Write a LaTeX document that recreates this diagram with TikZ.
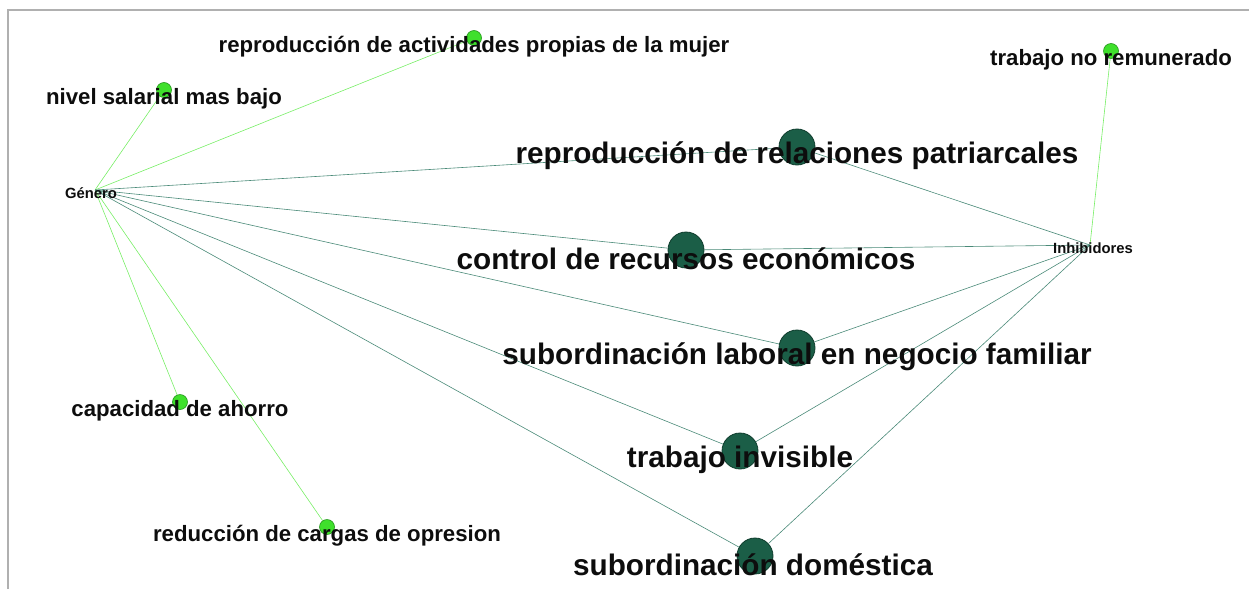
\documentclass[tikz,border=0pt]{standalone}
\usepackage{fontspec}
\setmainfont{Liberation Sans}
\usetikzlibrary{backgrounds}
\definecolor{bigfill}{HTML}{1B5E47}
\definecolor{bigline}{HTML}{0E3C2C}
\definecolor{smallfill}{HTML}{3FE02C}
\definecolor{smallline}{HTML}{23961A}
\definecolor{softedge}{HTML}{78EE66}
\definecolor{darkedge}{HTML}{4A8A78}
\definecolor{framegray}{HTML}{B0B0B0}

\begin{document}
\begin{tikzpicture}[x=1pt,y=-1pt]
  \tikzstyle{every node}=[inner sep=0pt,text=black!95]
  \tikzstyle{big}=[circle,draw=bigline,fill=bigfill,minimum size=36pt,line width=0.8pt]
  \tikzstyle{small}=[circle,draw=smallline,fill=smallfill,minimum size=15pt,line width=0.6pt]
  \tikzstyle{hub}=[minimum size=0pt]
  \tikzstyle{bigtext}=[font=\fontsize{29.7}{29.7}\selectfont\bfseries,yshift=-8.5pt]
  \tikzstyle{smalltext}=[font=\fontsize{22.2}{22.2}\selectfont\bfseries,yshift=-9pt]
  \tikzstyle{hubtext}=[font=\fontsize{14.8}{14.8}\selectfont\bfseries]
  \tikzstyle{soft}=[draw=softedge,line width=0.6pt]
  \tikzstyle{hard}=[draw=darkedge,line width=0.6pt]

  \useasboundingbox (0,0) rectangle (1249,589);
  \draw[framegray,line width=1.2pt] (8,589) -- (8,10) -- (1249,10);

  \node[hub,label={[hubtext,xshift=-4pt,yshift=-3pt]center:Género}]     (gen) at (95,190)   {};
  \node[hub,label={[hubtext,xshift=3pt,yshift=-3pt]center:Inhibidores}] (inh) at (1090,245) {};

  \node[small,label={[smalltext]center:nivel salarial mas bajo}] (nivel) at (164,90) {};
  \node[small,label={[smalltext]center:reproducción de actividades propias de la mujer}] (activ) at (474,38) {};
  \node[small,label={[smalltext]center:trabajo no remunerado}] (noremun) at (1111,51) {};
  \node[small,label={[smalltext]center:capacidad de ahorro}] (ahorro) at (180,402) {};
  \node[small,label={[smalltext]center:reducción de cargas de opresion}] (cargas) at (327,527) {};

  \node[big,label={[bigtext]center:reproducción de relaciones patriarcales}] (patri) at (797,147) {};
  \node[big,label={[bigtext]center:control de recursos económicos}] (control) at (686,250) {};
  \node[big,label={[bigtext]center:subordinación laboral en negocio familiar}] (laboral) at (797,348) {};
  \node[big,label={[bigtext]center:trabajo invisible}] (invis) at (740,451) {};
  \node[big,label={[bigtext,xshift=-2pt]center:subordinación doméstica}] (domest) at (755,556) {};

  \begin{scope}[on background layer]
    \draw[soft] (gen) -- (nivel);
    \draw[soft] (gen) -- (activ);
    \draw[soft] (gen) -- (ahorro);
    \draw[soft] (gen) -- (cargas);
    \draw[soft] (inh) -- (noremun);

    \draw[hard] (gen) -- (patri);
    \draw[hard] (gen) -- (control);
    \draw[hard] (gen) -- (laboral);
    \draw[hard] (gen) -- (invis);
    \draw[hard] (gen) -- (domest);

    \draw[hard] (inh) -- (patri);
    \draw[hard] (inh) -- (control);
    \draw[hard] (inh) -- (laboral);
    \draw[hard] (inh) -- (invis);
    \draw[hard] (inh) -- (domest);
  \end{scope}
\end{tikzpicture}
\end{document}
